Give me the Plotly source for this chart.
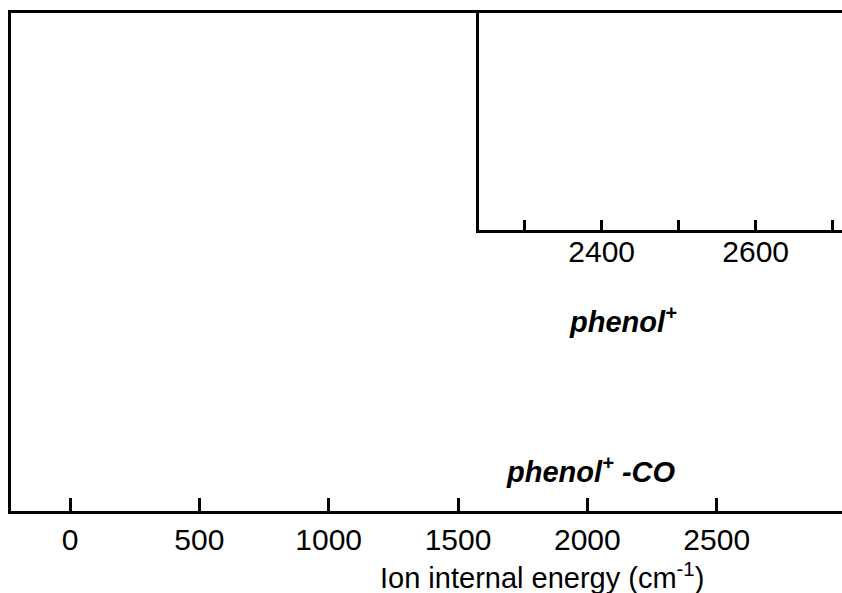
import plotly.graph_objects as go

# Tick values / labels
main_ticks = [0, 500, 1000, 1500, 2000, 2500]
main_ticklabels = ["0", "500", "1000", "1500", "2000", "2500"]
inset_ticks = [2400, 2600]
inset_ticklabels = ["2400", "2600"]
inset_minor_ticks = [2300, 2500, 2700]

x_title = "Ion internal energy (cm<sup>-1</sup>)"
label_parent = "<b><i>phenol<sup>+</sup></i></b>"
label_fragment = "<b><i>phenol<sup>+</sup> -CO</i></b>"

FONT = "Liberation Sans, Arial, Helvetica, sans-serif"

W, H = 842, 593
L, R, T, B = 11, 842, 12.5, 511.5  # plot area in pixels

def px_to_paper_x(px):
    return (px - L) / (R - L)

def px_to_paper_y(py):
    return (B - py) / (B - T)

fig = go.Figure()
fig.add_trace(go.Scatter(x=[], y=[], xaxis="x", yaxis="y", showlegend=False))
fig.add_trace(go.Scatter(x=[], y=[], xaxis="x2", yaxis="y2", showlegend=False))

inset_left_px = 478.8
inset_bottom_px = 229.8

fig.update_layout(
    width=W, height=H,
    margin=dict(l=L, r=W - R, t=T, b=H - B, pad=0),
    paper_bgcolor="white", plot_bgcolor="white",
    showlegend=False,
    font=dict(family=FONT, color="black", size=30),
    xaxis=dict(
        domain=[0, 1], range=[-228.1, 2984.4],
        showline=True, linewidth=3, linecolor="black", mirror=True,
        ticks="inside", ticklen=13, tickwidth=3, tickcolor="black",
        tickvals=main_ticks, ticktext=main_ticklabels,
        tickfont=dict(size=30, family=FONT),
        showgrid=False, zeroline=False, anchor="y",
    ),
    yaxis=dict(
        domain=[0, 1], range=[0, 1],
        showline=True, linewidth=3, linecolor="black",
        showticklabels=False, ticks="", showgrid=False, zeroline=False,
        anchor="x",
    ),
    xaxis2=dict(
        domain=[px_to_paper_x(inset_left_px), 1], range=[2240.4, 2712.1],
        showline=True, linewidth=3, linecolor="black",
        ticks="inside", ticklen=10, tickwidth=3, tickcolor="black",
        tickvals=inset_ticks, ticktext=inset_ticklabels,
        minor=dict(tickvals=inset_minor_ticks, ticks="inside", ticklen=10,
                   tickwidth=3, tickcolor="black", showgrid=False),
        tickfont=dict(size=30, family=FONT), ticklabelstandoff=-7,
        showgrid=False, zeroline=False, anchor="y2",
    ),
    yaxis2=dict(
        domain=[px_to_paper_y(inset_bottom_px), 1], range=[0, 1],
        showline=True, linewidth=3, linecolor="black",
        showticklabels=False, ticks="", showgrid=False, zeroline=False,
        anchor="x2",
    ),
)

fig.add_annotation(
    text=x_title, xref="paper", yref="paper",
    x=px_to_paper_x(542), y=px_to_paper_y(577),
    showarrow=False, font=dict(size=29, family=FONT),
    xanchor="center", yanchor="middle",
)
fig.add_annotation(
    text=label_parent, xref="paper", yref="paper",
    x=px_to_paper_x(623), y=px_to_paper_y(320),
    showarrow=False, font=dict(size=29, family=FONT),
    xanchor="center", yanchor="middle",
)
fig.add_annotation(
    text=label_fragment, xref="paper", yref="paper",
    x=px_to_paper_x(591), y=px_to_paper_y(470),
    showarrow=False, font=dict(size=29, family=FONT),
    xanchor="center", yanchor="middle",
)

fig.write_html("out.html")
